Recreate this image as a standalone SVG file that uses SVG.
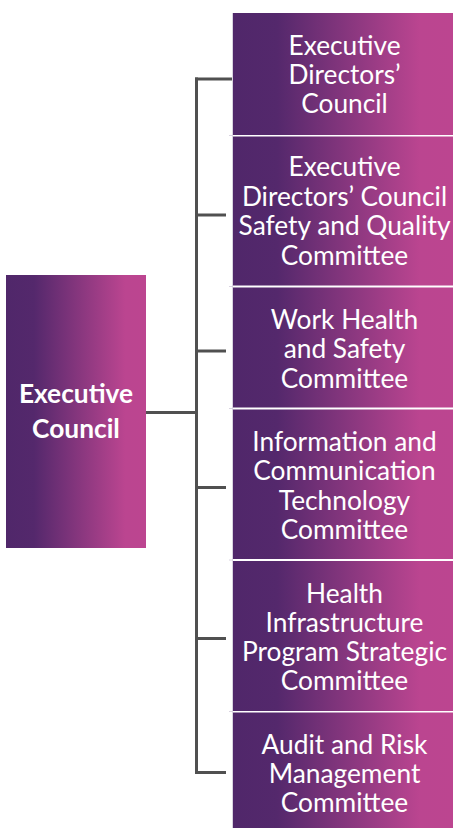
<svg xmlns="http://www.w3.org/2000/svg" width="453" height="828" viewBox="0 0 453 828">
  <defs>
    <linearGradient id="purplePink" x1="0" y1="0" x2="1" y2="0">
      <stop offset="0" stop-color="#50276a"/>
      <stop offset="0.2" stop-color="#54286c"/>
      <stop offset="0.85" stop-color="#bb4590"/>
      <stop offset="1" stop-color="#bc4590"/>
    </linearGradient>
  </defs>
  <style>
    .box { fill: url(#purplePink); }
    .label { font-family: "Lato", "Liberation Sans", sans-serif; font-size: 26.3px; fill: #ffffff; text-anchor: middle; }
    .bold { font-weight: bold; }
    .wire { stroke: #505050; stroke-width: 3; fill: none; }
    .rule { stroke: #d9d3e0; stroke-width: 1; fill: none; }
  </style>
  <rect width="453" height="828" fill="#ffffff"/>

  <!-- connectors -->
  <g id="connectors">
    <path class="wire" d="M146 412.5 H196.5"/>
    <path class="wire" d="M196.5 77.5 V774"/>
    <path class="wire" d="M195 79 H240"/>
    <path class="wire" d="M196.5 215 H226"/>
    <path class="wire" d="M196.5 351 H226"/>
    <path class="wire" d="M196.5 487.5 H226"/>
    <path class="wire" d="M196.5 638.5 H226"/>
    <path class="wire" d="M195 772.5 H226"/>
  </g>

  <!-- thin edge rules beside the committee column -->
  <g id="rules">
    <path class="rule" d="M232.5 13 V828"/>
    <path class="rule" d="M229 135.5 H233 M229 286.5 H233 M229 408.5 H233 M229 560 H233 M229 711.5 H233"/>
  </g>

  <g id="executive-council">
    <rect class="box" x="6" y="275" width="140" height="273"/>
    <text class="label bold" x="76" y="403">Executive</text>
    <text class="label bold" x="76" y="438">Council</text>
  </g>

  <g id="executive-directors-council">
    <rect class="box" x="233" y="13" width="220" height="122"/>
    <text class="label" x="344.5" y="55">Executive</text>
    <text class="label" x="344.5" y="84">Directors’</text>
    <text class="label" x="344.5" y="113">Council</text>
  </g>

  <g id="safety-quality-committee">
    <rect class="box" x="233" y="136.5" width="220" height="149"/>
    <text class="label" x="344.5" y="176">Executive</text>
    <text class="label" x="344.5" y="205.5">Directors’ Council</text>
    <text class="label" x="344.5" y="235">Safety and Quality</text>
    <text class="label" x="344.5" y="264.5">Committee</text>
  </g>

  <g id="work-health-safety-committee">
    <rect class="box" x="233" y="287.5" width="220" height="120"/>
    <text class="label" x="344.5" y="328.5">Work Health</text>
    <text class="label" x="344.5" y="358">and Safety</text>
    <text class="label" x="344.5" y="387.5">Committee</text>
  </g>

  <g id="ict-committee">
    <rect class="box" x="233" y="409.5" width="220" height="149.5"/>
    <text class="label" x="344.5" y="451">Information and</text>
    <text class="label" x="344.5" y="480">Communication</text>
    <text class="label" x="344.5" y="509.5">Technology</text>
    <text class="label" x="344.5" y="538.5">Committee</text>
  </g>

  <g id="infrastructure-committee">
    <rect class="box" x="233" y="561" width="220" height="150"/>
    <text class="label" x="344.5" y="602.5">Health</text>
    <text class="label" x="344.5" y="631.5">Infrastructure</text>
    <text class="label" x="344.5" y="660.5">Program Strategic</text>
    <text class="label" x="344.5" y="690">Committee</text>
  </g>

  <g id="audit-risk-committee">
    <rect class="box" x="233" y="712.5" width="220" height="115.5"/>
    <text class="label" x="344.5" y="753.5">Audit and Risk</text>
    <text class="label" x="344.5" y="783">Management</text>
    <text class="label" x="344.5" y="812">Committee</text>
  </g>
</svg>
